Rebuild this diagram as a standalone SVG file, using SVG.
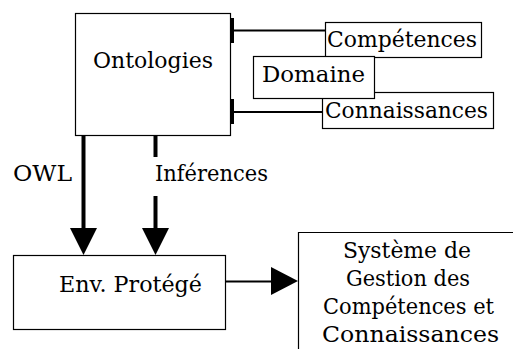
<svg xmlns="http://www.w3.org/2000/svg" width="513" height="349" viewBox="0 0 513 349">
<style>
.box{fill:#fff;stroke:#000;stroke-width:1.2}
.t{font-family:'DejaVu Serif','Liberation Serif',serif;font-size:23px;fill:#000}
.ln{stroke:#000;fill:none}
.ah{fill:#000}
</style>
<rect width="513" height="349" fill="#fff"/>
<g id="connectors">
  <line class="ln" x1="232" y1="30.5" x2="326" y2="30.5" stroke-width="2"/>
  <line class="ln" x1="232.5" y1="18" x2="232.5" y2="43" stroke-width="3"/>
  <line class="ln" x1="232" y1="112" x2="323" y2="112" stroke-width="2"/>
  <line class="ln" x1="232.5" y1="99" x2="232.5" y2="124" stroke-width="3"/>
  <line class="ln" x1="83.5" y1="135" x2="83.5" y2="232" stroke-width="4"/>
  <polygon class="ah" points="70,228 97,228 83.5,255"/>
  <line class="ln" x1="155.5" y1="135" x2="155.5" y2="157" stroke-width="4"/>
  <line class="ln" x1="155.5" y1="196" x2="155.5" y2="232" stroke-width="4"/>
  <polygon class="ah" points="142,228 169,228 155.5,255"/>
  <line class="ln" x1="225" y1="281.5" x2="274" y2="281.5" stroke-width="2"/>
  <polygon class="ah" points="271,267 298,281 271,295"/>
  <text class="t" x="13" y="181" textLength="59" lengthAdjust="spacingAndGlyphs">OWL</text>
  <text class="t" x="155" y="181" textLength="113" lengthAdjust="spacingAndGlyphs">Inférences</text>
</g>
<g id="ontologies">
  <rect class="box" x="75.5" y="13.5" width="155" height="122"/>
  <text class="t" x="93" y="68" textLength="120" lengthAdjust="spacingAndGlyphs">Ontologies</text>
</g>
<g id="competences">
  <rect class="box" x="325.5" y="22.5" width="156" height="35"/>
  <text class="t" x="327" y="47" textLength="150" lengthAdjust="spacingAndGlyphs">Compétences</text>
</g>
<g id="connaissances">
  <rect class="box" x="322.5" y="92.5" width="171" height="36"/>
  <text class="t" x="325" y="118" textLength="163" lengthAdjust="spacingAndGlyphs">Connaissances</text>
</g>
<g id="domaine">
  <rect class="box" x="253.5" y="56.5" width="121" height="42"/>
  <text class="t" x="262" y="82" textLength="103" lengthAdjust="spacingAndGlyphs">Domaine</text>
</g>
<g id="env-protege">
  <rect class="box" x="13.5" y="255.5" width="212" height="74"/>
  <text class="t" x="59" y="292" textLength="143" lengthAdjust="spacingAndGlyphs">Env. Protégé</text>
</g>
<g id="systeme">
  <path class="ln" d="M298.5,349 V232.5 H513" stroke-width="1.2"/>
  <text class="t" x="343" y="258" textLength="128" lengthAdjust="spacingAndGlyphs">Système de</text>
  <text class="t" x="346" y="286" textLength="124" lengthAdjust="spacingAndGlyphs">Gestion des</text>
  <text class="t" x="323" y="314" textLength="171" lengthAdjust="spacingAndGlyphs">Compétences et</text>
  <text class="t" x="322" y="342" textLength="177" lengthAdjust="spacingAndGlyphs">Connaissances</text>
</g>
</svg>
